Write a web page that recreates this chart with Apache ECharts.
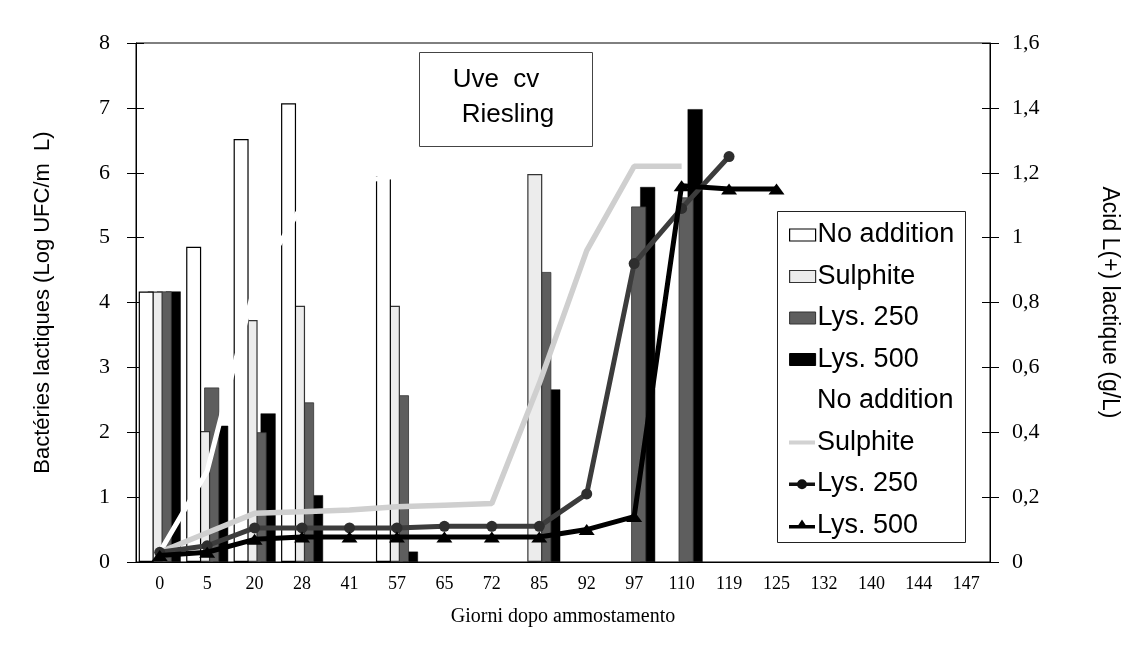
<!DOCTYPE html>
<html>
<head>
<meta charset="utf-8">
<script src="https://cdn.jsdelivr.net/npm/echarts@6/dist/echarts.min.js"></script>
<style>
html,body{margin:0;padding:0;background:#fff;}
#chart{width:1129px;height:653px;}
</style>
</head>
<body>
<div id="chart"></div>
<script>
// ---- data ----
const categories = ['0','5','20','28','41','57','65','72','85','92','97','110','119','125','132','140','144','147'];

// Bacteria (left axis, Log UFC/mL)
const barNoAddition = [4.17, 4.86, 6.52, 7.07, null, 5.95, null, null, null, null, null, null, null, null, null, null, null, null];
const barSulphite   = [4.17, 2.02, 3.73, 3.95, null, 3.95, null, null, 5.98, null, null, null, null, null, null, null, null, null];
const barLys250     = [4.17, 2.69, 2.00, 2.46, null, 2.57, null, null, 4.47, null, 5.48, 5.62, null, null, null, null, null, null];
const barLys500     = [4.17, 2.10, 2.29, 1.03, null, 0.16, null, null, 2.66, null, 5.78, 6.98, null, null, null, null, null, null];

// L(+) lactic acid (right axis, g/L)
const lineNoAddition = [0.03, 0.28, 0.85, 1.10, 1.17, 1.19, 1.20, 1.20, null, null, null, null, null, null, null, null, null, null];
const lineSulphite   = [0.03, 0.09, 0.15, 0.155, 0.16, 0.17, 0.175, 0.18, 0.55, 0.96, 1.22, 1.22, null, null, null, null, null, null];
const lineLys250     = [0.03, 0.05, 0.105, 0.105, 0.105, 0.105, 0.11, 0.11, 0.11, 0.21, 0.92, 1.09, 1.25, null, null, null, null, null];
const lineLys500     = [0.02, 0.03, 0.07, 0.077, 0.077, 0.077, 0.077, 0.077, 0.077, 0.10, 0.14, 1.16, 1.15, 1.15, null, null, null, null];

const leftTitle = 'Bactéries lactiques (Log UFC/m  L)';
const rightTitle = 'Acid L(+) lactique (g/L)';
const xTitle = 'Giorni dopo ammostamento';

const chart = echarts.init(document.getElementById('chart'), null, {renderer:'canvas'});

const serif = 'Liberation Serif';
const sans = 'Liberation Sans';

function commaFmt(v){
  const s = Math.round(v*10)/10;
  return Number.isInteger(s) ? String(s) : s.toFixed(1).replace('.', ',');
}

const barCommon = {type:'bar', xAxisIndex:0, yAxisIndex:0, barWidth:15, barGap:'-40%'};
const lineCommon = {type:'line', xAxisIndex:0, yAxisIndex:1, connectNulls:false, z:10};

const legendText = {fontFamily:sans, fontSize:27, color:'#000', lineHeight:30, padding:[0,0,0,-3]};

const option = {
  animation:false,
  backgroundColor:'#fff',
  grid:{left:136, right:139, top:43, bottom:91, show:true, borderColor:'#000', borderWidth:1},
  xAxis:[
    {type:'category', data:categories, boundaryGap:true,
     axisLine:{lineStyle:{color:'#000', width:1}},
     axisTick:{alignWithLabel:true, length:9, lineStyle:{color:'#000'}},
     axisLabel:{color:'#000', fontFamily:serif, fontSize:18, margin:13, interval:0},
     name:xTitle, nameLocation:'middle', nameGap:45,
     nameTextStyle:{fontFamily:serif, fontSize:20, color:'#000'}},
    {type:'category', data:categories, boundaryGap:true, position:'bottom',
     axisLine:{show:false}, axisLabel:{show:false},
     axisTick:{inside:true, alignWithLabel:true, length:7, lineStyle:{color:'#000'}}}
  ],
  yAxis:[
    {type:'value', min:0, max:8, interval:1, position:'left',
     axisLine:{show:true, lineStyle:{color:'#000'}},
     axisTick:{show:true, length:9, lineStyle:{color:'#000'}},
     axisLabel:{color:'#000', fontFamily:serif, fontSize:22, margin:26},
     splitLine:{show:false},
     name:leftTitle, nameLocation:'middle', nameGap:82, nameRotate:90,
     nameTextStyle:{fontFamily:sans, fontSize:22, color:'#000'}},
    {type:'value', min:0, max:1.6, interval:0.2, position:'right',
     axisLine:{show:true, lineStyle:{color:'#000'}},
     axisTick:{show:true, length:9, lineStyle:{color:'#000'}},
     axisLabel:{color:'#000', fontFamily:serif, fontSize:22, margin:22, formatter:commaFmt},
     splitLine:{show:false},
     name:rightTitle, nameLocation:'middle', nameGap:108, nameRotate:-90,
     nameTextStyle:{fontFamily:sans, fontSize:23, color:'#000'}},
    {type:'value', min:0, max:8, interval:1, position:'left',
     axisLine:{show:false}, axisLabel:{show:false}, splitLine:{show:false},
     axisTick:{show:true, inside:true, length:8, lineStyle:{color:'#000'}}},
    {type:'value', min:0, max:1.6, interval:0.2, position:'right',
     axisLine:{show:false}, axisLabel:{show:false}, splitLine:{show:false},
     axisTick:{show:true, inside:true, length:8, lineStyle:{color:'#000'}}}
  ],
  legend:[
    {orient:'vertical', left:784, top:215, itemWidth:26, itemHeight:12, itemGap:11.5,
     selectedMode:false, textStyle:legendText,
     data:[
       {name:'No addition', icon:'rect', itemStyle:{color:'#fff', borderColor:'#000', borderWidth:1.2}},
       {name:'Sulphite', icon:'rect', itemStyle:{color:'#ececec', borderColor:'#333', borderWidth:1.2}},
       {name:'Lys. 250', icon:'rect', itemStyle:{color:'#5e5e5e', borderColor:'#333', borderWidth:1}},
       {name:'Lys. 500', icon:'rect', itemStyle:{color:'#000', borderColor:'#000', borderWidth:1}}
     ]},
    {orient:'vertical', left:784, top:381, itemWidth:26, itemHeight:12, itemGap:11.5,
     selectedMode:false, textStyle:legendText,
     data:[
       {name:'No addition', icon:'rect', itemStyle:{color:'#fff', borderColor:'#fff', borderWidth:0}},
       {name:'Sulphite', icon:'path://M0,0h0.01v0.01H0z M0,4h26v4H0z M0,12h0.01v0.01H0z', itemStyle:{color:'#d2d2d2', borderWidth:0}},
       {name:'Lys. 250', icon:'path://M0,0h0.01v0.01H0z M0,4.5h26v3.5H0z M13,1.25a5,5 0 1,1 -0.01,0z M0,12h0.01v0.01H0z', itemStyle:{color:'#111', borderWidth:0}},
       {name:'Lys. 500', icon:'path://M0,5.5h26v3.5H0z M13,0L19,9L7,9z M0,12h0.01v0.01H0z', itemStyle:{color:'#000', borderWidth:0}}
     ]}
  ],
  graphic:[
    {type:'rect', shape:{x:419.5, y:52.5, width:173, height:94}, style:{fill:'#fff', stroke:'#444', lineWidth:1}, z:20},
    {type:'text', x:496, y:80, style:{text:'Uve  cv', font:'26px "Liberation Sans"', fill:'#000', align:'center', verticalAlign:'middle'}, z:21},
    {type:'text', x:508, y:115, style:{text:'Riesling', font:'26px "Liberation Sans"', fill:'#000', align:'center', verticalAlign:'middle'}, z:21},
    {type:'rect', shape:{x:777.5, y:211.5, width:188, height:331}, style:{fill:'rgba(255,255,255,0)', stroke:'#222', lineWidth:1}, z:20}
  ],
  series:[
    Object.assign({}, barCommon, {name:'No addition', data:barNoAddition, z:6,
      itemStyle:{color:'#fff', borderColor:'#000', borderWidth:1.2}}),
    Object.assign({}, barCommon, {name:'Sulphite', data:barSulphite, z:5,
      itemStyle:{color:'#ececec', borderColor:'#333', borderWidth:1.2}}),
    Object.assign({}, barCommon, {name:'Lys. 250', data:barLys250, z:4,
      itemStyle:{color:'#5e5e5e', borderColor:'#333', borderWidth:0.8}}),
    Object.assign({}, barCommon, {name:'Lys. 500', data:barLys500, z:3,
      itemStyle:{color:'#000', borderColor:'#000', borderWidth:0.5}}),
    Object.assign({}, lineCommon, {name:'No addition', data:lineNoAddition, z:10,
      symbol:'none', lineStyle:{color:'#fff', width:5}}),
    Object.assign({}, lineCommon, {name:'Sulphite', data:lineSulphite, z:11,
      symbol:'none', lineStyle:{color:'#cfcfcf', width:5.5}}),
    Object.assign({}, lineCommon, {name:'Lys. 250', data:lineLys250, z:12,
      symbol:'circle', symbolSize:11, showSymbol:true,
      itemStyle:{color:'#2e2e2e', borderWidth:0}, lineStyle:{color:'#3c3c3c', width:5}}),
    Object.assign({}, lineCommon, {name:'Lys. 500', data:lineLys500, z:13,
      symbol:'triangle', symbolSize:[16,11], showSymbol:true,
      itemStyle:{color:'#000', borderWidth:0}, lineStyle:{color:'#000', width:5}})
  ]
};
chart.setOption(option);
</script>
</body>
</html>
